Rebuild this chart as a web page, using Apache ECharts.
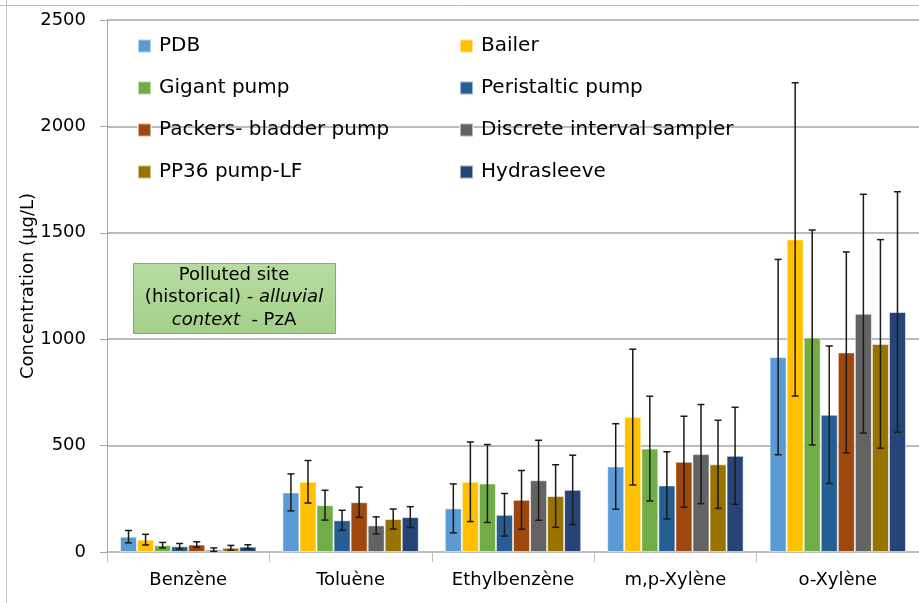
<!DOCTYPE html>
<html>
<head>
<meta charset="utf-8">
<script src="https://cdn.jsdelivr.net/npm/echarts@6/dist/echarts.min.js"></script>
<style>
html, body { margin: 0; padding: 0; background: #fff; }
#chart { width: 919px; height: 603px; }
</style>
</head>
<body>
<div id="chart"></div>
<script>
// categories and sampler names
var compounds = ['Benzène', 'Toluène', 'Ethylbenzène', 'm,p-Xylène', 'o-Xylène'];
var samplers = ['PDB', 'Bailer', 'Gigant pump', 'Peristaltic pump',
    'Packers- bladder pump', 'Discrete interval sampler', 'PP36 pump-LF', 'Hydrasleeve'];
var colors = ['#5b9bd5', '#ffc000', '#70ad47', '#255e91', '#9e480e', '#636363', '#997300', '#264478'];

// mean concentrations (µg/L), one array per sampler, in compound order
var pdb = [72, 280, 205, 402, 916];
var bailer = [58, 330, 330, 634, 1469];
var gigant = [32, 220, 322, 486, 1008];
var peristaltic = [27, 149, 175, 313, 645];
var packers = [35, 234, 245, 424, 938];
var discrete = [11, 125, 337, 460, 1120];
var pp36 = [20, 155, 263, 412, 978];
var hydrasleeve = [25, 164, 292, 452, 1128];

// error bar half-widths (µg/L)
var pdbErr = [29, 87, 115, 201, 459];
var bailerErr = [25, 100, 187, 319, 736];
var gigantErr = [13, 70, 183, 246, 505];
var peristalticErr = [13, 47, 100, 158, 323];
var packersErr = [13, 71, 138, 214, 472];
var discreteErr = [8, 40, 188, 233, 561];
var pp36Err = [11, 47, 147, 207, 490];
var hydrasleeveErr = [9, 49, 163, 228, 565];

var yTicks = [0, 500, 1000, 1500, 2000, 2500];

var means = [pdb, bailer, gigant, peristaltic, packers, discrete, pp36, hydrasleeve];
var errs = [pdbErr, bailerErr, gigantErr, peristalticErr, packersErr, discreteErr, pp36Err, hydrasleeveErr];

var FONT = '"DejaVu Sans"';
var catGap = 0.16;

var errData = [];
means.forEach(function(arr, s) {
    arr.forEach(function(v, c) {
        errData.push([c, v, errs[s][c], s]);
    });
});

var series = samplers.map(function(name, i) {
    return {
        name: name,
        type: 'bar',
        data: means[i],
        barGap: '0%',
        barCategoryGap: (catGap * 100) + '%',
        itemStyle: { color: colors[i], borderColor: 'rgba(255,255,255,0.55)', borderWidth: 1 }
    };
});

series.push({
    name: 'errors',
    type: 'custom',
    data: errData,
    z: 10,
    renderItem: function(params, api) {
        var c = api.value(0), v = api.value(1), e = api.value(2), s = api.value(3);
        var bandW = api.size([1, 0])[0];
        var barW = bandW * (1 - catGap) / samplers.length;
        var center = api.coord([c, v]);
        var x = center[0] + (s - (samplers.length - 1) / 2) * barW;
        var top = api.coord([c, v + e])[1];
        var bot = api.coord([c, Math.max(v - e, 0)])[1];
        var cap = 3.5;
        var st = { stroke: '#1a1a1a', lineWidth: 1.5 };
        return {
            type: 'group',
            children: [
                { type: 'line', shape: { x1: x, y1: top, x2: x, y2: bot }, style: st },
                { type: 'line', shape: { x1: x - cap, y1: top, x2: x + cap, y2: top }, style: st },
                { type: 'line', shape: { x1: x - cap, y1: bot, x2: x + cap, y2: bot }, style: st }
            ]
        };
    }
});

var legendCommon = {
    orient: 'vertical',
    icon: 'rect',
    itemWidth: 13,
    itemHeight: 13,
    itemGap: 22,
    top: 36,
    padding: 0,
    textStyle: { fontFamily: FONT, fontSize: 20, color: '#000', lineHeight: 20, padding: [0, 0, 0, 3] }
};

var chart = echarts.init(document.getElementById('chart'));
chart.setOption({
    animation: false,
    textStyle: { fontFamily: FONT },
    grid: { left: 107, top: 20, width: 815, height: 532, containLabel: false },
    legend: [
        Object.assign({ left: 137, data: [samplers[0], samplers[2], samplers[4], samplers[6]] }, legendCommon),
        Object.assign({ left: 459, data: [samplers[1], samplers[3], samplers[5], samplers[7]] }, legendCommon)
    ],
    xAxis: {
        type: 'category',
        data: compounds,
        axisLine: { lineStyle: { color: '#bfbfbf', width: 2 } },
        axisTick: { show: true, length: 10, lineStyle: { color: '#bfbfbf', width: 1 } },
        axisLabel: { fontFamily: FONT, fontSize: 18, color: '#000', margin: 19 }
    },
    yAxis: {
        type: 'value',
        min: 0,
        max: 2500,
        interval: 500,
        name: 'Concentration (µg/L)',
        nameLocation: 'middle',
        nameGap: 70,
        nameMoveOverlap: false,
        nameTextStyle: { fontFamily: FONT, fontSize: 18, color: '#000' },
        axisLine: { show: true, lineStyle: { color: '#a6a6a6', width: 1 } },
        axisTick: { show: true, length: 7, lineStyle: { color: '#a6a6a6' } },
        axisLabel: {
            fontFamily: FONT, fontSize: 18, color: '#000', margin: 21,
            formatter: function(v) { return yTicks.indexOf(v) >= 0 ? String(v) : ''; }
        },
        splitLine: { lineStyle: { color: '#a6a6a6', width: 1.5 } }
    },
    graphic: [
        { type: 'line', shape: { x1: 6.5, y1: 0, x2: 6.5, y2: 603 }, style: { stroke: '#bfbfbf', lineWidth: 1 } },
        { type: 'line', shape: { x1: 0, y1: 5.5, x2: 919, y2: 5.5 }, style: { stroke: '#bfbfbf', lineWidth: 1 } },
        {
            type: 'rect',
            left: 133, top: 263, z: 100,
            shape: { width: 202, height: 70 },
            style: {
                fill: {
                    type: 'linear', x: 0, y: 0, x2: 0, y2: 1,
                    colorStops: [{ offset: 0, color: '#b7dca0' }, { offset: 1, color: '#a3d08a' }]
                },
                stroke: '#7bb457', lineWidth: 1
            }
        },
        {
            type: 'text',
            x: 234, y: 264, z: 101,
            style: {
                text: '{n|Polluted site}\n{n|(historical) - }{i|alluvial}\n{i|context}{n|  - PzA}',
                textAlign: 'center',
                rich: {
                    n: { fontFamily: FONT, fontSize: 18, lineHeight: 22.5, fill: '#000' },
                    i: { fontFamily: FONT, fontSize: 18, lineHeight: 22.5, fontStyle: 'italic', fill: '#000' }
                }
            }
        }
    ],
    series: series
});
</script>
</body>
</html>
